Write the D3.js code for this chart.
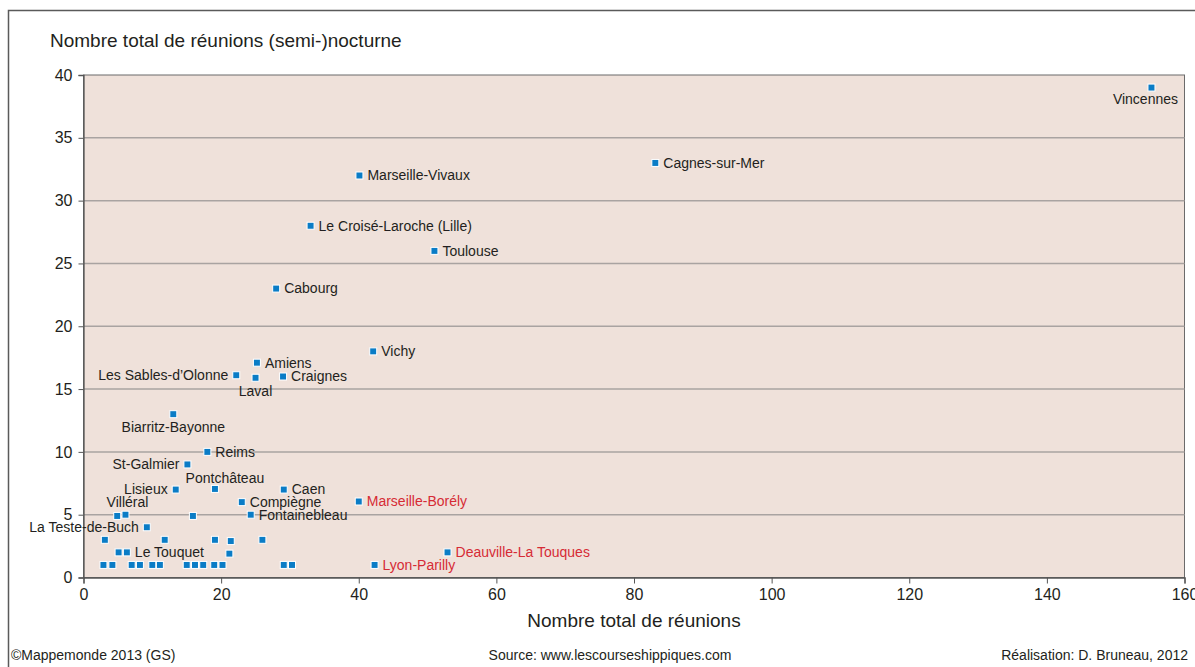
<!DOCTYPE html>
<html>
<head>
<meta charset="utf-8">
<script src="https://cdn.jsdelivr.net/npm/d3@7"></script>
<style>
  body { margin: 0; background: #fff; }
  svg { display: block; font-family: "Liberation Sans", Arial, sans-serif; }
</style>
</head>
<body>
<svg id="scatter"></svg>
<script>
// hippodromes : total reunions (x) vs reunions (semi-)nocturnes (y)
const names = [
    "Vincennes", "Cagnes-sur-Mer", "Marseille-Vivaux", "Le Croisé-Laroche (Lille)", "Toulouse",
    "Cabourg", "Vichy", "Amiens", "Les Sables-d\u2019Olonne", "Laval", "Craignes",
    "Biarritz-Bayonne", "Reims", "St-Galmier", "Pontchâteau", "Lisieux", "Caen", "Compiègne",
    "Marseille-Borély", "Fontainebleau", "Villéral", "", "", "La Teste-de-Buch",
    "", "", "", "", "",
    "Deauville-La Touques", "", "Le Touquet", "", "Lyon-Parilly",
    "", "", "", "", "", "", "", "", "", "", "", "", ""
];
const totals = [
    155.2, 83.1, 40.1, 33.0, 51.0,
    28.0, 42.1, 25.2, 22.2, 25.0, 29.0,
    13.05, 18.0, 15.1, 19.1, 13.4, 29.1, 23.0,
    40.0, 24.3, 6.1, 4.9, 15.9, 9.2,
    3.1, 11.8, 19.1, 21.4, 26.0,
    52.9, 5.1, 6.3, 21.2, 42.3,
    2.9, 4.2, 7.0, 8.2, 10.0, 11.1, 15.0, 16.2, 17.4, 19.0, 20.2, 29.1, 30.3
];
const nocturnes = [
    39, 33, 32, 28, 26,
    23, 18, 17.1, 16.1, 15.9, 16,
    13, 10, 9, 7.05, 7, 7, 6,
    6.05, 5, 5, 4.9, 4.9, 4,
    3, 3, 3, 2.9, 3,
    2, 2, 2, 1.9, 1,
    1, 1, 1, 1, 1, 1, 1, 1, 1, 1, 1, 1, 1
];
// where the label sits: r right, l left, b below, t above
const labelPos = [
    "bl", "r", "r", "r", "r",
    "r", "r", "r", "l", "b", "r",
    "b", "r", "l", "tr", "l", "r", "r",
    "r", "r", "t", "", "", "l",
    "", "", "", "", "",
    "r", "", "r", "", "r",
    "", "", "", "", "", "", "", "", "", "", "", "", ""
];
const redNames = ["Marseille-Borély", "Deauville-La Touques", "Lyon-Parilly"];
const xTicks = [0, 20, 40, 60, 80, 100, 120, 140, 160];
const yTicks = [0, 5, 10, 15, 20, 25, 30, 35, 40];
const gridValues = [5, 10, 15, 20, 25, 30, 35];

const data = names.map((n, i) => ({
    name: n, x: totals[i], y: nocturnes[i], pos: labelPos[i]
}));

const svgWidth = 1195, svgHeight = 667;
const plot = { left: 83.5, right: 1184.5, top: 75, bottom: 577.5 };

const svg = d3.select('#scatter')
    .attr("width", svgWidth)
    .attr("height", svgHeight);

// outer frame
svg.append("rect")
    .attr("x", 8.5).attr("y", 10.5)
    .attr("width", 1200).attr("height", 700)
    .attr("fill", "none")
    .attr("stroke", "#5a5a5a")
    .attr("stroke-width", 1.5);

const x = d3.scaleLinear().domain([0, 160]).range([plot.left, plot.right]);
const y = d3.scaleLinear().domain([0, 40]).range([plot.bottom, plot.top]);

// panel
svg.append("rect")
    .attr("x", x(0)).attr("y", y(40))
    .attr("width", x(160) - x(0)).attr("height", y(0) - y(40))
    .attr("fill", "#efe1da")
    .attr("stroke", "#6b6b6b")
    .attr("stroke-width", 1);

svg.append("g")
    .selectAll("line")
    .data(gridValues)
    .join("line")
    .attr("x1", x(0)).attr("x2", x(160))
    .attr("y1", d => y(d)).attr("y2", d => y(d))
    .attr("stroke", "#a9a3a1")
    .attr("stroke-width", 1.5);

const xAxis = svg.append("g")
    .attr("transform", "translate(0," + y(0) + ")")
    .call(d3.axisBottom(x).tickValues(xTicks).tickSize(6).tickPadding(5));

const yAxis = svg.append("g")
    .attr("transform", "translate(" + x(0) + ",0)")
    .call(d3.axisLeft(y).tickValues(yTicks).tickSize(5).tickPadding(6));

[xAxis, yAxis].forEach(a => {
    a.select(".domain").attr("stroke", "#555").attr("stroke-width", 1.3);
    a.selectAll(".tick line").attr("stroke", "#555");
    a.selectAll(".tick text")
        .attr("fill", "#231f20")
        .style("font-size", "16px")
        .style("font-family", "'Liberation Sans', Arial, sans-serif");
});

// points
svg.append("g")
    .selectAll("rect")
    .data(data)
    .join("rect")
    .attr("x", d => x(d.x) - 3.5)
    .attr("y", d => y(d.y) - 3.5)
    .attr("width", 7).attr("height", 7)
    .attr("fill", "#0a7cc6")
    .attr("stroke", "#fff")
    .attr("stroke-width", 1);

const offsets = {
    r: [8, 0, "start"],
    l: [-8, 0, "end"],
    b: [0, 13, "middle"],
    t: [2, -13, "middle"],
    tr: [10, -11, "middle"],
    bl: [-6, 12, "middle"]
};

svg.append("g")
    .selectAll("text")
    .data(data.filter(d => d.name !== ""))
    .join("text")
    .attr("x", d => x(d.x) + offsets[d.pos][0])
    .attr("y", d => y(d.y) + offsets[d.pos][1])
    .attr("dy", "0.35em")
    .attr("text-anchor", d => offsets[d.pos][2])
    .attr("fill", d => redNames.includes(d.name) ? "#d62b35" : "#231f20")
    .style("font-size", "14px")
    .text(d => d.name);

// titles
svg.append("text")
    .attr("x", 50).attr("y", 47)
    .attr("fill", "#231f20")
    .style("font-size", "19px")
    .text("Nombre total de réunions (semi-)nocturne");

svg.append("text")
    .attr("x", (x(0) + x(160)) / 2).attr("y", 627)
    .attr("text-anchor", "middle")
    .attr("fill", "#231f20")
    .style("font-size", "19px")
    .text("Nombre total de réunions");

const footer = [
    { t: "©Mappemonde 2013 (GS)", x: 11, a: "start" },
    { t: "Source: www.lescourseshippiques.com", x: 610, a: "middle" },
    { t: "Réalisation: D. Bruneau, 2012", x: 1188, a: "end" }
];
svg.append("g")
    .selectAll("text")
    .data(footer)
    .join("text")
    .attr("x", d => d.x).attr("y", 660)
    .attr("text-anchor", d => d.a)
    .attr("fill", "#231f20")
    .style("font-size", "14px")
    .text(d => d.t);
</script>
</body>
</html>
